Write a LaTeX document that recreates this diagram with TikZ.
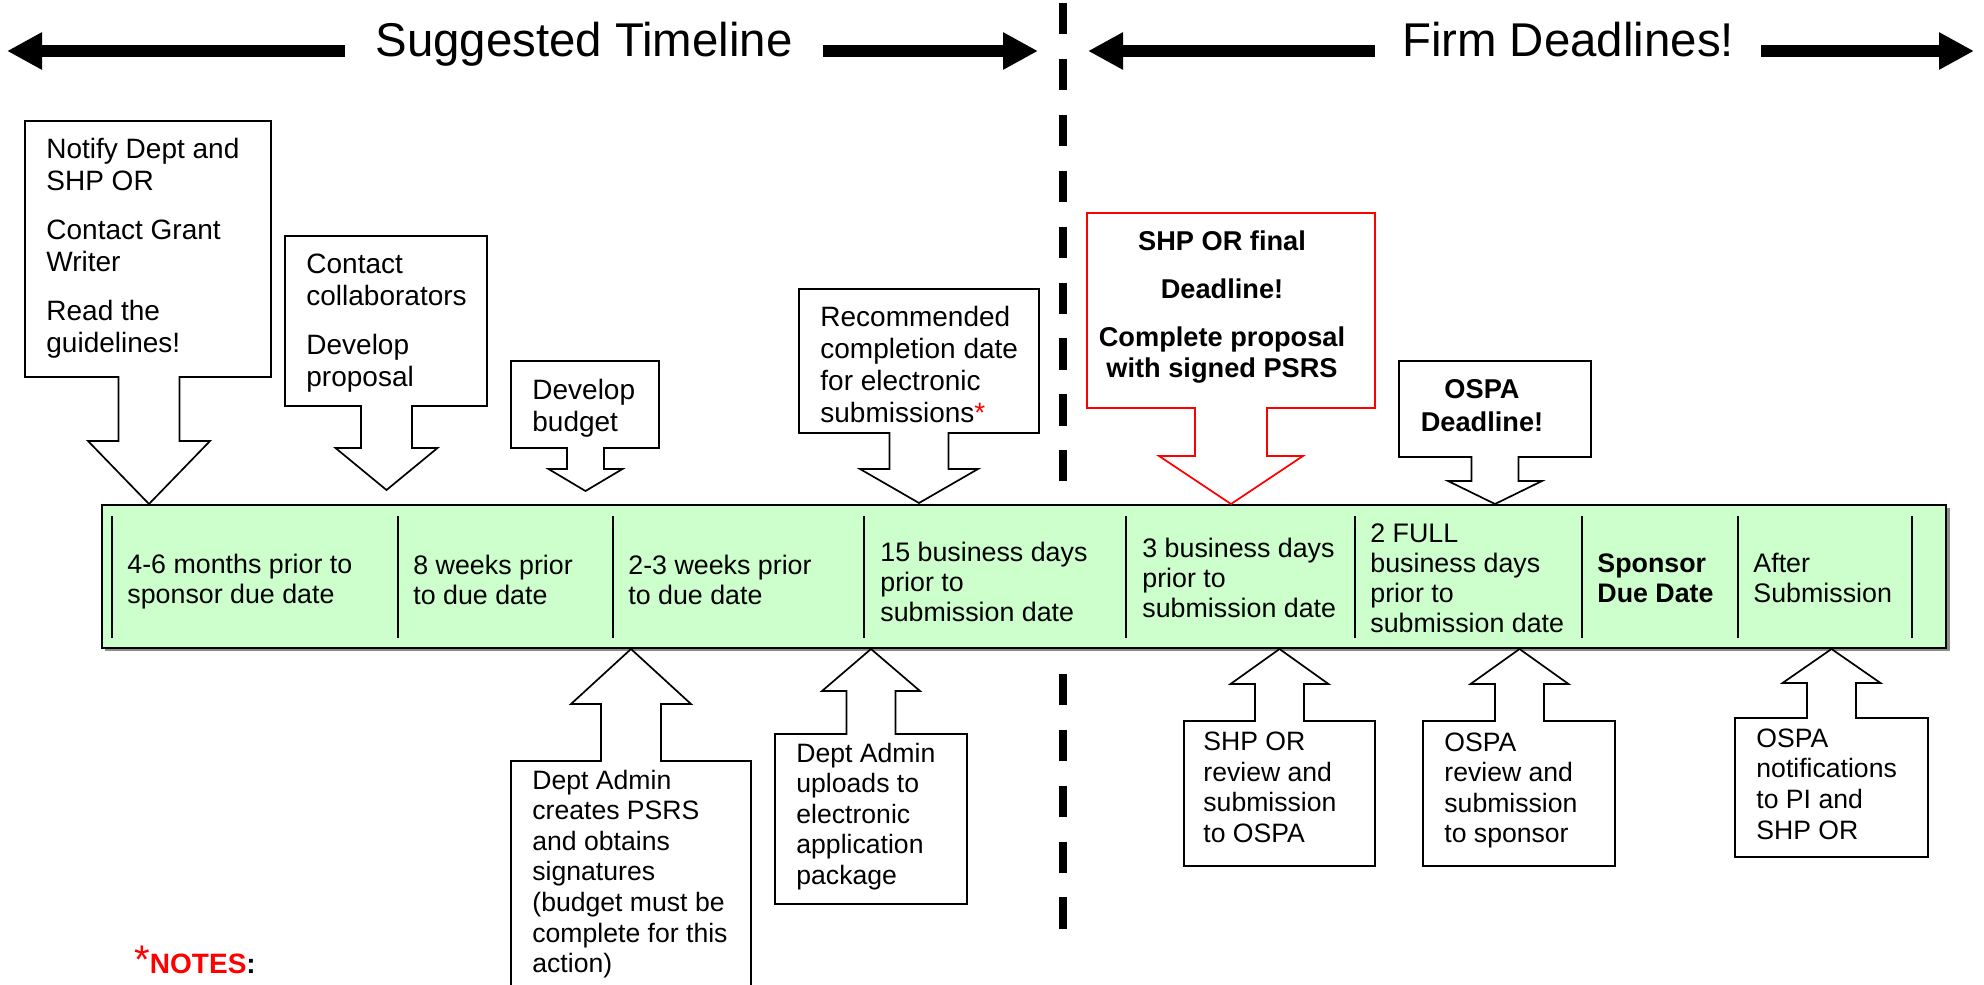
\documentclass[tikz,border=0pt]{standalone}
\usepackage{fontspec}
\setmainfont{Liberation Sans}
\usetikzlibrary{arrows.meta}
\definecolor{bandgreen}{HTML}{CCFFCC}
\def\blockcallout[#1](#2,#3,#4,#5)(#6,#7,#8,#9){\draw[#1] (#2,#3) -- (#4,#3) -- (#4,#5) -- ({#6+#7},#5) -- ({#6+#7},#8) -- ({#6+2*#7},#8) -- (#6,#9) -- ({#6-2*#7},#8) -- ({#6-#7},#8) -- ({#6-#7},#5) -- (#2,#5) -- cycle;}
\tikzset{
  callbox/.style={draw=black, fill=white, line width=0.85pt, line join=miter},
  redbox/.style={draw=red, fill=white, line width=0.85pt, line join=miter},
  toptext/.style={inner sep=0pt, align=left, anchor=west, font=\fontsize{14pt}{16pt}\selectfont},
  bottext/.style={inner sep=0pt, align=left, anchor=west, font=\fontsize{13.3pt}{15.3pt}\selectfont},
  celltext/.style={inner sep=0pt, align=left, anchor=west, font=\fontsize{13.4pt}{15pt}\selectfont},
  boldtext/.style={inner sep=0pt, align=center, font=\fontsize{13.6pt}{15.5pt}\selectfont\bfseries},
  heading/.style={inner ysep=0pt, anchor=base, font=\fontsize{23.7pt}{26pt}\selectfont},
  headarrow/.style={line width=6pt, -{Triangle[length=17.5pt,width=17.5pt]}}
}
\begin{document}
\begin{tikzpicture}[x=0.5pt, y=-0.5pt]
		%%%%% START %%%%%
		\useasboundingbox (0,0) rectangle (1984,984);
		\clip (0,0) rectangle (1984,984);
		
		% headings
		\node[heading, inner xsep=15pt] (sugg) at (584,57) {Suggested Timeline};
		\node[heading, inner xsep=13.5pt] (firm) at (1568,57) {Firm Deadlines!};
		\coordinate (suggl) at (7,51);
		\coordinate (suggr) at (1038,51);
		\coordinate (firml) at (1088,51);
		\coordinate (firmr) at (1974,51);
		\draw[headarrow] (sugg.west |- suggl) -- (suggl);
		\draw[headarrow] (sugg.east |- suggr) -- (suggr);
		\draw[headarrow] (firm.west |- firml) -- (firml);
		\draw[headarrow] (firm.east |- firmr) -- (firmr);
		
		% separator
		\coordinate (septop) at (1063,3);
		\coordinate (sepbot) at (1063,930);
		\draw[line width=4pt, dash pattern=on 15.6pt off 12.35pt] (septop) -- (sepbot);
		
		% band
		\fill[black!45] (105,508) rectangle (1950,651);
		\draw[fill=bandgreen, line width=1pt] (102,505) rectangle (1946,648);
		\draw[line width=0.7pt] (112,516) -- (112,638);
		\draw[line width=0.7pt] (398,516) -- (398,638);
		\draw[line width=0.7pt] (613,516) -- (613,638);
		\draw[line width=0.7pt] (864,516) -- (864,638);
		\draw[line width=0.7pt] (1126,516) -- (1126,638);
		\draw[line width=0.7pt] (1355,516) -- (1355,638);
		\draw[line width=0.7pt] (1582,516) -- (1582,638);
		\draw[line width=0.7pt] (1738,516) -- (1738,638);
		\draw[line width=0.7pt] (1912,516) -- (1912,638);
		
		\node[celltext] (months) at (127,582) {4-6 months prior to\\sponsor due date};
		\node[celltext] (eightwk) at (413,580) {8 weeks prior\\to due date};
		\node[celltext] (threewk) at (628,580) {2-3 weeks prior\\to due date};
		\node[celltext] (fifteen) at (880,582) {15 business days\\prior to\\submission date};
		\node[celltext] (threeday) at (1142,578) {3 business days\\prior to\\submission date};
		\node[celltext] (twoday) at (1370,578) {2 FULL\\business days\\prior to\\submission date};
		\node[celltext, font=\fontsize{13.4pt}{15pt}\selectfont\bfseries] (duedate) at (1597,578) {Sponsor\\Due Date};
		\node[celltext] (after) at (1753,578) {After\\Submission};
		
		% callouts above
		\blockcallout[callbox](25,121,271,377)(149,30.5,441,504)
		\node[toptext] (notify) at (46,248) {Notify Dept and\\SHP OR\\[8.5pt]Contact Grant\\Writer\\[8.5pt]Read the\\guidelines!};
		
		\blockcallout[callbox](285,236,487,406)(386.5,25.5,448,490)
		\node[toptext] (collab) at (306,323) {Contact\\collaborators\\[8.5pt]Develop\\proposal};
		
		\blockcallout[callbox](511,361,659,448)(585.5,18.5,469,491)
		\node[toptext] (budget) at (532,408.5) {Develop\\budget};
		
		\blockcallout[callbox](799,289,1039,433)(919,29.5,469,503)
		\node[toptext] (recom) at (820,364.5) {Recommended\\completion date\\for electronic\\submissions\textcolor{red}{*}};
		
		\blockcallout[redbox](1087,213,1375,408)(1231,36,456,504)
		\node[boldtext] (shpfinal) at (1222,307) {SHP OR final\\[8.5pt]Deadline!\\[8.5pt]Complete proposal\\with signed PSRS};
		
		\blockcallout[callbox](1399,361,1591,457)(1495,23.5,481,504)
		\node[boldtext, font=\fontsize{13.6pt}{16.5pt}\selectfont\bfseries] (ospadl) at (1482,405.5) {OSPA\\Deadline!};
		
		% callouts below
		\blockcallout[callbox](511,1000,751,761)(631,30,704,649)
		\node[bottext] (admin) at (532,874) {Dept Admin\\creates PSRS\\and obtains\\signatures\\(budget must be\\complete for this\\action)};
		
		\blockcallout[callbox](775,904,967,734)(871,24.5,691,649)
		\node[bottext] (upload) at (796,816.5) {Dept Admin\\uploads to\\electronic\\application\\package};
		
		\blockcallout[callbox](1184,866,1375,721)(1279.5,24.5,684,649)
		\node[bottext] (shprev) at (1203,787.5) {SHP OR\\review and\\submission\\to OSPA};
		
		\blockcallout[callbox](1423,866,1615,721)(1519.5,24.5,684,649)
		\node[bottext] (ospare) at (1444,790.5) {OSPA\\review and\\submission\\to sponsor};
		
		\blockcallout[callbox](1735,857,1928,718)(1831.5,24.5,683,649)
		\node[bottext] (notif) at (1756,784) {OSPA\\notifications\\to PI and\\SHP OR};
		
		% notes
		\node[inner sep=0pt, anchor=base west] (notes) at (134,973) {\textcolor{red}{\fontsize{20pt}{22pt}\selectfont *}\textcolor{red}{\fontsize{14pt}{16pt}\selectfont\bfseries NOTES}\fontsize{14pt}{16pt}\selectfont\bfseries :};
		
		%%%%% END %%%%%
	\end{tikzpicture}
\end{document}
